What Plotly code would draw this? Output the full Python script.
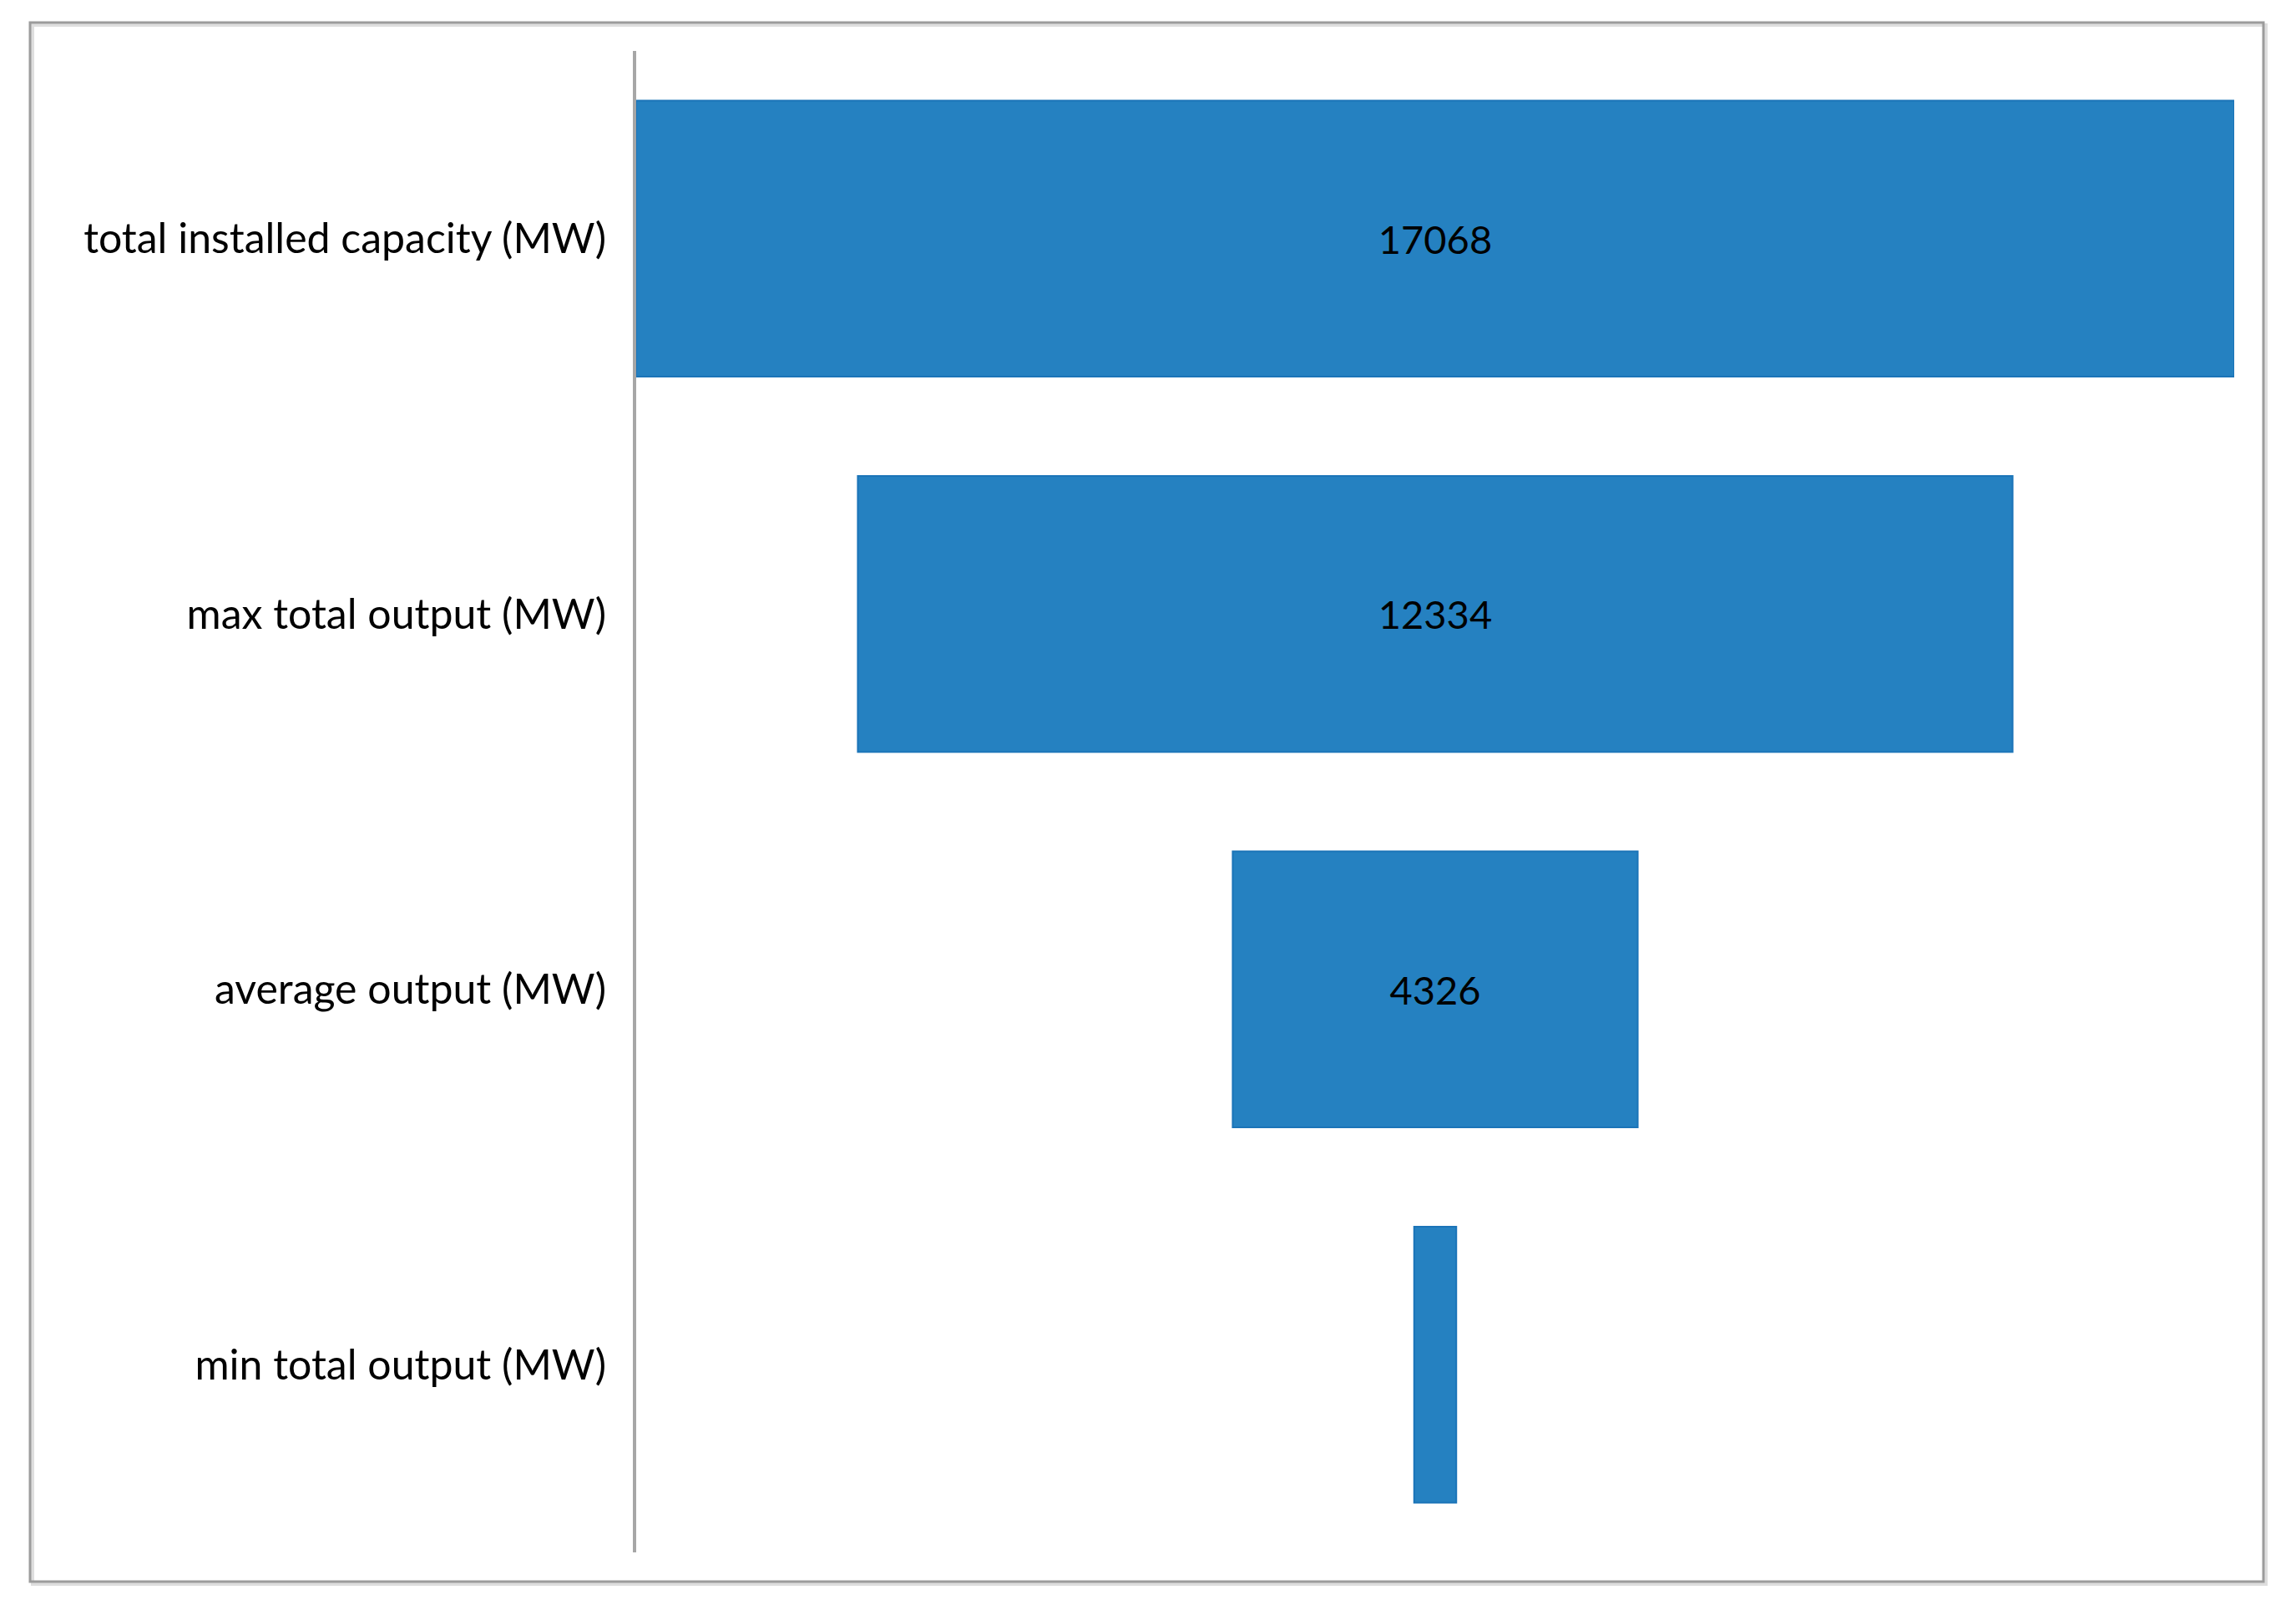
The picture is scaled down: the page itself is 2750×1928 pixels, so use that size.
import plotly.graph_objects as go

categories = ["total installed capacity (MW)", "max total output (MW)",
              "average output (MW)", "min total output (MW)"]
values = [17068, 12334, 4326, 450]
labels = ["17068", "12334", "4326", ""]

OFF = 8  # default page body margin
W, H = 2750 - 2 * OFF, 1928 - 2 * OFF
L, R, T, B = 762 - OFF, 2676 - OFF, 61 - OFF, 1859 - OFF

fig = go.Figure(go.Funnel(
    y=categories,
    x=values,
    text=labels,
    textinfo="text",
    textposition="inside",
    insidetextanchor="middle",
    textfont=dict(family="Lato, Calibri, sans-serif", size=47, color="#000000"),
    marker=dict(color="#2581c1", line=dict(color="#1b74b8", width=2)),
    connector=dict(visible=False),
    constraintext="none",
    hoverinfo="x+y",
))

pw, ph = R - L, B - T
def px(x):
    return (x - OFF - L) / pw
def py(y):
    return (B - (y - OFF)) / ph

fig.update_layout(
    width=W, height=H,
    margin=dict(l=L, r=W - R, t=T, b=H - B, pad=0),
    paper_bgcolor="white", plot_bgcolor="white",
    showlegend=False,
    funnelgap=0.265,
    font=dict(family="Lato, Calibri, sans-serif", size=50, color="#000000"),
    xaxis=dict(visible=False, range=[-values[0] / 2, values[0] / 2]),
    yaxis=dict(showline=True, linecolor="#a6a6a6", linewidth=4, showgrid=False,
               zeroline=False, ticks="", ticklabelstandoff=22,
               tickfont=dict(family="Lato, Calibri, sans-serif", size=50, color="#000000")),
    shapes=[
        dict(type="rect", xref="paper", yref="paper",
             x0=px(39), x1=px(2714), y0=py(1897), y1=py(30),
             line=dict(color="#dedede", width=4), fillcolor="rgba(0,0,0,0)", layer="below"),
        dict(type="rect", xref="paper", yref="paper",
             x0=px(36), x1=px(2711), y0=py(1894), y1=py(27),
             line=dict(color="#9c9c9c", width=3), fillcolor="rgba(0,0,0,0)", layer="below"),
    ],
)

fig.write_html("out.html")
